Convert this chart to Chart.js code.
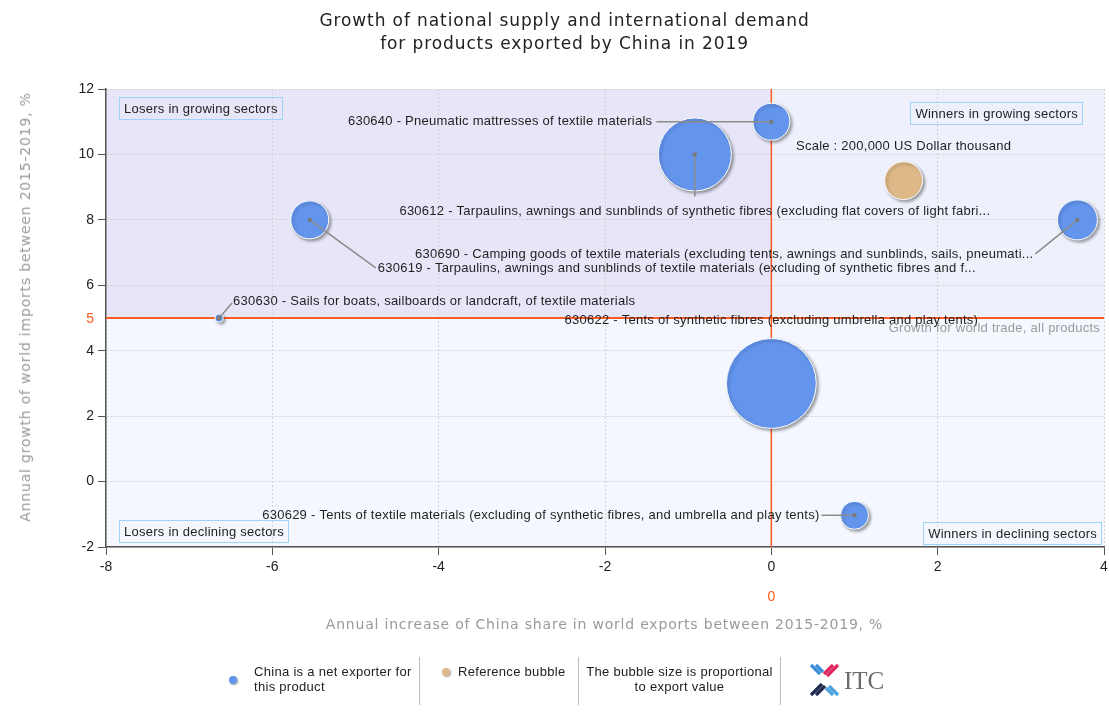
<!DOCTYPE html>
<html>
<head>
<meta charset="utf-8">
<title>Growth of national supply and international demand</title>
<script src="https://cdn.jsdelivr.net/npm/chart.js@4/dist/chart.umd.min.js"></script>
<style>
  body { margin: 0; background: #fff; font-family: "Liberation Sans", Arial, sans-serif; }
  #wrap { position: relative; width: 1109px; height: 722px; overflow: hidden; }
  #chart { position: absolute; left: 0; top: 0; }
  .title { position: absolute; left: 0; top: 9px; width: 1129px; text-align: center; font: 17px "DejaVu Sans", sans-serif;
           letter-spacing: 0.9px; line-height: 23px; color: #222; }
  .axis-title { position: absolute; font: 14px "DejaVu Sans", sans-serif; letter-spacing: 0.8px; color: #9a9a9a; white-space: nowrap; }
  .lg { position: absolute; font-size: 13px; letter-spacing: 0.3px; line-height: 15px; color: #222; }
  .sep { position: absolute; top: 657px; width: 1px; height: 48px; background: #bdbdbd; }
  .dot { position: absolute; width: 8px; height: 8px; border-radius: 50%; box-shadow: 1px 1px 2px rgba(0,0,0,0.35); }
</style>
</head>
<body>
<div id="wrap">
  <canvas id="chart" width="1109" height="722"></canvas>

  <div class="title">Growth of national supply and international demand<br>for products exported by China in 2019</div>
  <div class="axis-title" id="xTitle" style="left:0; top:616px; width:1209px; text-align:center;"></div>
  <div class="axis-title" id="yTitle" style="left:25px; top:307px; transform: translate(-50%, -50%) rotate(-90deg);"></div>

  <div class="dot" style="left:229px; top:676px; background:#6495ED;"></div>
  <div class="lg" style="left:254px; top:664px;">China is a net exporter for<br>this product</div>
  <div class="sep" style="left:419px;"></div>
  <div class="dot" style="left:442px; top:668px; background:#DEB887;"></div>
  <div class="lg" style="left:458px; top:664px;">Reference bubble</div>
  <div class="sep" style="left:578px;"></div>
  <div class="lg" style="left:579px; top:664px; width:201px; text-align:center;">The bubble size is proportional<br>to export value</div>
  <div class="sep" style="left:780px;"></div>
  <svg style="position:absolute; left:806px; top:662px;" width="90" height="36" viewBox="0 0 90 36">
    <g stroke-width="3.2" stroke-linecap="butt">
      <line x1="5" y1="3" x2="14" y2="12" stroke="#3b8fd6"/>
      <line x1="10" y1="3" x2="17" y2="10" stroke="#3b8fd6"/>
      <line x1="32" y1="3" x2="21" y2="14" stroke="#e0245e"/>
      <line x1="27" y1="3" x2="18" y2="12" stroke="#e0245e"/>
      <line x1="5" y1="33" x2="16" y2="22" stroke="#1e2b4f"/>
      <line x1="10" y1="33" x2="19" y2="24" stroke="#1e2b4f"/>
      <line x1="32" y1="33" x2="23" y2="24" stroke="#4aa3df"/>
      <line x1="27" y1="33" x2="20" y2="26" stroke="#4aa3df"/>
    </g>
    <text x="38" y="27" font-family="'Liberation Serif', 'DejaVu Serif', serif" font-size="25" fill="#6b6b6b">ITC</text>
  </svg>
</div>

<script>
// products shown on the chart
const productCodes = ["630640", "630612", "630619", "630690", "630630", "630622", "630629"];
const productNames = [
  "Pneumatic mattresses of textile materials",
  "Tarpaulins, awnings and sunblinds of synthetic fibres (excluding flat covers of light fabri...",
  "Tarpaulins, awnings and sunblinds of textile materials (excluding of synthetic fibres and f...",
  "Camping goods of textile materials (excluding tents, awnings and sunblinds, sails, pneumati...",
  "Sails for boats, sailboards or landcraft, of textile materials",
  "Tents of synthetic fibres (excluding umbrella and play tents)",
  "Tents of textile materials (excluding of synthetic fibres, and umbrella and play tents)",
];
// annual increase of China share in world exports, %
const shareGrowth = [0, -0.92, -5.55, 3.68, -6.64, 0, 1.0];
// annual growth of world imports, %
const importGrowth = [11, 10, 8, 8, 5, 3, -1.03];
// export value, US Dollar thousand
const exportValues = [190000, 740000, 200000, 222000, 9000, 1120000, 109000];

const referenceValue = 200000;
const referencePoint = [1.59, 9.2];
const worldTradeGrowth = 5;

const xTicks = [-8, -6, -4, -2, 0, 2, 4];
const yTicks = [-2, 0, 2, 4, 6, 8, 10, 12];

const xAxisTitle = "Annual increase of China share in world exports between 2015-2019, %";
const yAxisTitle = "Annual growth of world imports between 2015-2019, %";

const FONT = '"Liberation Sans", Arial, sans-serif';
const ORANGE = "#ff5a1f";
const REF_RADIUS = 19;

document.getElementById("xTitle").textContent = xAxisTitle;
document.getElementById("yTitle").textContent = yAxisTitle;

// where each product label sits, relative to its bubble
const labelLayout = [
  { dx: -119, dy: 0, align: "right", line: [-115, 0] },
  { dx: 0, dy: 57, align: "center", line: [0, 42] },
  { dx: 68, dy: 49, align: "left", line: [66, 48] },
  { dx: -44, dy: 35, align: "right", line: [-42, 34] },
  { dx: 14, dy: -17, align: "left", line: [13, -15] },
  { dx: 0, dy: -63, align: "center", line: null },
  { dx: -35, dy: 0, align: "right", line: [-33, 0] },
];

// big bubbles would otherwise push the plot area in from the canvas edges
Chart.BubbleController.prototype.getMaxOverflow = function () {
  return false;
};

function radiusFor(value) {
  return REF_RADIUS * Math.sqrt(value / referenceValue);
}

function setTextFont(ctx) {
  ctx.font = "13px " + FONT;
  ctx.letterSpacing = "0.25px";
}

function boxLabel(ctx, text, x, y, anchor) {
  setTextFont(ctx);
  const w = ctx.measureText(text).width + 9;
  const h = 22;
  const left = anchor === "right" ? x - w : x;
  ctx.strokeStyle = "#9fd3f7";
  ctx.lineWidth = 1;
  ctx.strokeRect(Math.round(left) + 0.5, Math.round(y) + 0.5, Math.round(w), h);
  ctx.fillStyle = "#222";
  ctx.textAlign = "left";
  ctx.textBaseline = "middle";
  ctx.fillText(text, left + 5, y + h / 2 + 1);
}

const backgroundPlugin = {
  id: "quadrants",
  beforeDraw(chart) {
    const { ctx, chartArea: a, scales: { x, y } } = chart;
    const x0 = x.getPixelForValue(0);
    const y5 = y.getPixelForValue(worldTradeGrowth);
    ctx.save();
    ctx.fillStyle = "#e6e6f8";
    ctx.fillRect(a.left, a.top, x0 - a.left, y5 - a.top);
    ctx.fillStyle = "#eef1fb";
    ctx.fillRect(x0, a.top, a.right - x0, y5 - a.top);
    ctx.fillStyle = "#f4f8fe";
    ctx.fillRect(a.left, y5, a.right - a.left, a.bottom - y5);
    ctx.restore();
  },
  beforeDatasetsDraw(chart) {
    const { ctx, chartArea: a, scales: { x, y } } = chart;
    const x0 = x.getPixelForValue(0);
    const y5 = y.getPixelForValue(worldTradeGrowth);
    ctx.save();
    ctx.strokeStyle = ORANGE;
    ctx.lineWidth = 2;
    ctx.beginPath();
    ctx.moveTo(a.left, y5);
    ctx.lineTo(a.right, y5);
    ctx.stroke();
    ctx.lineWidth = 1.5;
    ctx.beginPath();
    ctx.moveTo(x0, a.top);
    ctx.lineTo(x0, a.bottom);
    ctx.stroke();

    // orange labels for the two reference lines
    ctx.fillStyle = ORANGE;
    ctx.font = "14px " + FONT;
    ctx.textBaseline = "middle";
    ctx.textAlign = "right";
    ctx.fillText(String(worldTradeGrowth), a.left - 12, y5 + 1);
    ctx.textAlign = "center";
    ctx.fillText("0", x0, 597);

    boxLabel(ctx, "Losers in growing sectors", a.left + 13, a.top + 8, "left");
    boxLabel(ctx, "Winners in growing sectors", a.right - 22, a.top + 13, "right");
    boxLabel(ctx, "Losers in declining sectors", a.left + 13, a.bottom - 27, "left");
    boxLabel(ctx, "Winners in declining sectors", a.right - 3, a.bottom - 25, "right");
    ctx.restore();

    // bubble shadow, undone in afterDatasetsDraw
    ctx.save();
    ctx.shadowColor = "rgba(0,0,0,0.35)";
    ctx.shadowOffsetX = 2;
    ctx.shadowOffsetY = 2;
    ctx.shadowBlur = 3;
  },
  afterDatasetsDraw(chart) {
    const { ctx, chartArea: a, scales: { x, y } } = chart;
    ctx.restore();
    ctx.save();
    setTextFont(ctx);
    ctx.textBaseline = "middle";

    productCodes.forEach((code, i) => {
      const px = x.getPixelForValue(shareGrowth[i]);
      const py = y.getPixelForValue(importGrowth[i]);
      const l = labelLayout[i];
      if (l.line) {
        ctx.strokeStyle = "#8c8c8c";
        ctx.lineWidth = 1.5;
        ctx.beginPath();
        ctx.moveTo(px, py);
        ctx.lineTo(px + l.line[0], py + l.line[1]);
        ctx.stroke();
        ctx.fillStyle = "#7a7a7a";
        ctx.beginPath();
        ctx.arc(px, py, 2.2, 0, Math.PI * 2);
        ctx.fill();
      }
      ctx.fillStyle = "#1f1f1f";
      ctx.textAlign = l.align;
      ctx.fillText(code + " - " + productNames[i], px + l.dx, py + l.dy);
    });

    const rx = x.getPixelForValue(referencePoint[0]);
    const ry = y.getPixelForValue(referencePoint[1]);
    ctx.textAlign = "center";
    ctx.fillStyle = "#1f1f1f";
    ctx.fillText("Scale : " + referenceValue.toLocaleString("en-US") + " US Dollar thousand", rx, ry - 34);

    ctx.fillStyle = "#9a9a9a";
    ctx.textAlign = "right";
    ctx.fillText("Growth for world trade, all products", a.right - 4, y.getPixelForValue(worldTradeGrowth) + 10);
    ctx.restore();
  },
};

const productPoints = productCodes.map((c, i) => ({
  x: shareGrowth[i],
  y: importGrowth[i],
  r: radiusFor(exportValues[i]),
}));

const axisCommon = {
  type: "linear",
  ticks: { color: "#222", font: { family: FONT, size: 14 }, padding: 4 },
  grid: { color: "#d2d2d2", tickColor: "#555", tickLength: 8 },
  border: { color: "#555", width: 1.5, dash: [2, 2] },
};

new Chart(document.getElementById("chart"), {
  type: "bubble",
  data: {
    datasets: [
      {
        label: "China is a net exporter for this product",
        data: productPoints,
        backgroundColor: "#6495ED",
        borderColor: "#ffffff",
        borderWidth: 1,
        clip: false,
      },
      {
        label: "Reference bubble",
        data: [{ x: referencePoint[0], y: referencePoint[1], r: REF_RADIUS }],
        backgroundColor: "#DEB887",
        borderColor: "#ffffff",
        borderWidth: 1,
        clip: false,
      },
    ],
  },
  options: {
    responsive: false,
    animation: false,
    events: [],
    layout: { padding: { top: 89, left: 0, right: 5, bottom: 145 } },
    plugins: {
      legend: { display: false },
      tooltip: { enabled: false },
    },
    scales: {
      x: {
        ...axisCommon,
        min: xTicks[0],
        max: xTicks[xTicks.length - 1],
        afterBuildTicks: (s) => { s.ticks = xTicks.map((v) => ({ value: v })); },
        afterFit: (s) => { s.height = 30; s.paddingLeft = 0; s.paddingRight = 0; },
      },
      y: {
        ...axisCommon,
        min: yTicks[0],
        max: yTicks[yTicks.length - 1],
        afterBuildTicks: (s) => { s.ticks = yTicks.map((v) => ({ value: v })); },
        afterFit: (s) => { s.width = 106; },
      },
    },
  },
  plugins: [backgroundPlugin],
});
</script>
</body>
</html>
